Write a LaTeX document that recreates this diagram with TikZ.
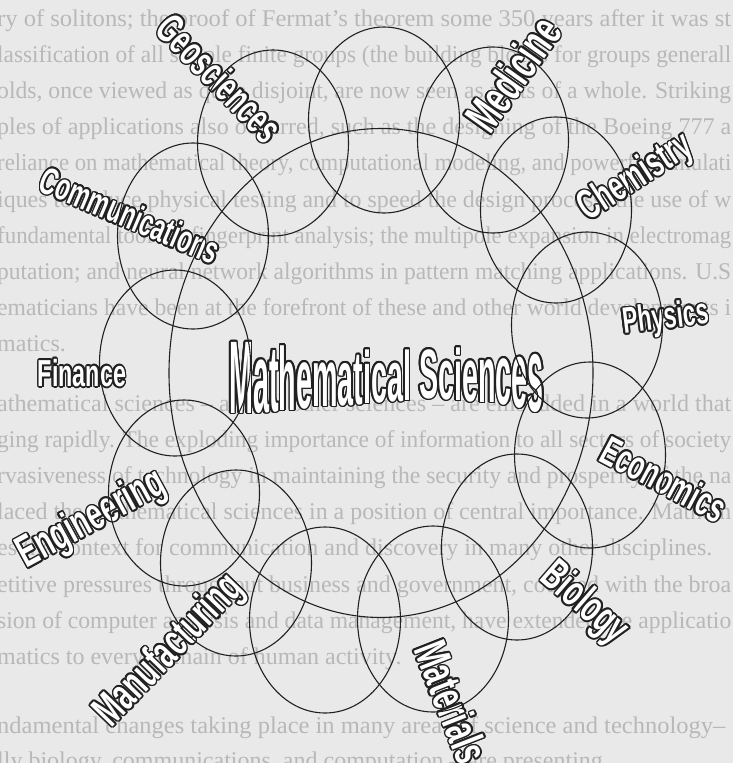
\documentclass[tikz,border=0pt]{standalone}
\usepackage{graphicx}
\usepackage{fontspec}
\setmainfont{Liberation Serif}
\newfontfamily\lblfont{Liberation Sans}[FakeStretch=0.62]
\newfontfamily\mathlblfont{Liberation Sans}
\usetikzlibrary{shapes.geometric,calc}
\definecolor{paper}{gray}{0.915}
\definecolor{ghost}{gray}{0.72}
\definecolor{ink}{gray}{0.13}
\newcommand\olabel[5]{%
  \foreach \oa in {0,22.5,...,337.5}{%
    \node[lbltext,rotate=#3,text=ink,font=\lblfont\bfseries\fontsize{#4pt}{#4pt}\selectfont] at ($(#2)+(\oa:1.6)$) {#5};}%
  \node[lbltext,rotate=#3,text=white,font=\lblfont\bfseries\fontsize{#4pt}{#4pt}\selectfont] (#1) at (#2) {#5};}
\newcommand\mlet[3]{\raisebox{#2pt}{\scalebox{0.718}[#3]{#1}}}
\newcommand\mathtitle{\mlet{M}{0}{2.584}\mlet{a}{1}{2.444}\mlet{t}{2}{2.339}\mlet{h}{3}{2.235}%
\mlet{e}{5}{2.130}\mlet{m}{7}{2.025}\mlet{a}{8}{1.955}\mlet{t}{9}{1.885}\mlet{i}{10}{1.851}%
\mlet{c}{11}{1.816}\mlet{a}{12}{1.781}\mlet{l}{13}{1.746}\hspace{8pt}%
\mlet{S}{15}{1.746}\mlet{c}{14}{1.781}\mlet{i}{13}{1.816}\mlet{e}{12}{1.885}\mlet{n}{11}{1.990}%
\mlet{c}{9}{2.130}\mlet{e}{6}{2.339}\mlet{s}{2}{2.654}}
\newcommand\fullline[2][734pt]{\resizebox{#1}{\height}{#2}}
\begin{document}
\begin{tikzpicture}[x=1pt,y=-1pt,
  ring/.style={ellipse,draw=ink,line width=1.1pt,inner sep=0pt,minimum width=151pt,minimum height=186pt},
  bigring/.style={ellipse,draw=ink,line width=1.1pt,inner sep=0pt,minimum width=424pt,minimum height=489pt},
  bgline/.style={anchor=base west,inner sep=0pt,text=ghost,font=\fontsize{24pt}{24pt}\selectfont},
  lbltext/.style={inner sep=0pt,anchor=center}]
\useasboundingbox (0,0) rectangle (733,763);
\clip (0,0) rectangle (733,763);
\fill[paper] (0,0) rectangle (733,763);
% faint page text behind the figure
\node[bgline] (t1) at (-3,26) {\fullline{ry of solitons; the proof of Fermat's theorem some 350 years after it was st}};
\node[bgline] (t2) at (-3,62.2) {\fullline{lassification of all simple finite groups (the building blocks for groups generall}};
\node[bgline] (t3) at (-3,98.4) {\fullline{olds, once viewed as quite disjoint, are now seen as parts of a whole. Striking}};
\node[bgline] (t4) at (-3,134.6) {\fullline{ples of applications also occurred, such as the designing of the Boeing 777 a}};
\node[bgline] (t5) at (-3,170.8) {\fullline{reliance on mathematical theory, computational modeling, and powerful simulati}};
\node[bgline] (t6) at (-3,207) {\fullline{iques to reduce physical testing and to speed the design process; the use of w}};
\node[bgline] (t7) at (-3,243.2) {\fullline{fundamental tool for fingerprint analysis; the multipole expansion in electromag}};
\node[bgline] (t8) at (-3,279.4) {\fullline{putation; and neural network algorithms in pattern matching applications. U.S}};
\node[bgline] (t9) at (-3,315.6) {\fullline{ematicians have been at the forefront of these and other world developments i}};
\node[bgline] (t10) at (-3,351.8) {matics.};
\node[bgline] (t11) at (-3,411) {\fullline{athematical sciences -- and all other sciences -- are embedded in a world that}};
\node[bgline] (t12) at (-3,447.2) {\fullline{ging rapidly. The exploding importance of information to all sectors of society}};
\node[bgline] (t13) at (-3,483.4) {\fullline{rvasiveness of technology in maintaining the security and prosperity of the na}};
\node[bgline] (t14) at (-3,519.6) {\fullline{laced the mathematical sciences in a position of central importance. Mathem}};
\node[bgline] (t15) at (-3,555.8) {es the context for communication and discovery in many other disciplines.};
\node[bgline] (t16) at (-3,592) {\fullline{etitive pressures throughout business and government, coupled with the broa}};
\node[bgline] (t17) at (-3,628.2) {\fullline{sion of computer analysis and data management, have extended the applicatio}};
\node[bgline] (t18) at (-3,664.4) {matics to every domain of human activity.};
\node[bgline] (t19) at (-3,733) {\fullline[728pt]{ndamental changes taking place in many areas of science and technology--}};
\node[bgline] (t20) at (-3,768) {lly biology, communications, and computation -- are presenting};
% labels
\olabel{lgeo}{220,78}{-45.7}{41.6}{Geosciences}
\olabel{lmed}{513,74}{54.6}{48}{Medicine}
\olabel{lchem}{636,178}{33}{42}{Chemistry}
\olabel{lphys}{666,319}{7}{36.7}{Physics}
\olabel{lecon}{664,479}{-28}{41}{Economics}
\olabel{lbio}{584,604}{-41}{44}{Biology}
\olabel{lmat}{452,702}{-68.6}{47}{Materials}
\olabel{lmanu}{170,651}{46}{45}{Manufacturing}
\olabel{leng}{92,520}{28.6}{45}{Engineering}
\olabel{lfin}{82,373}{0}{37.6}{Finance}
\olabel{lcomm}{130,215}{-23}{38}{Communications}
\foreach \oa in {0,22.5,...,337.5}{%
  \node[lbltext,anchor=base west,text=ink,font=\mathlblfont\bfseries\fontsize{40pt}{40pt}\selectfont] at ($(229,413)+(\oa:1.6)$) {\mathtitle};}
\node[lbltext,anchor=base west,text=white,font=\mathlblfont\bfseries\fontsize{40pt}{40pt}\selectfont] (lmath) at (229,413) {\mathtitle};
% rings
\node[bigring] (core) at (381,373) {};
\node[ring] (geo) at (273,143) {};
\node[ring] (top) at (384,120) {};
\node[ring] (med) at (493,140) {};
\node[ring] (chem) at (556,210) {};
\node[ring] (phys) at (587,325) {};
\node[ring] (econ) at (590,455) {};
\node[ring] (bio) at (517,547) {};
\node[ring] (mat) at (433,619) {};
\node[ring] (low) at (325,620) {};
\node[ring] (manu) at (236,563) {};
\node[ring] (eng) at (184,493) {};
\node[ring] (fin) at (175,363) {};
\node[ring] (comm) at (193,236) {};
\end{tikzpicture}
\end{document}
